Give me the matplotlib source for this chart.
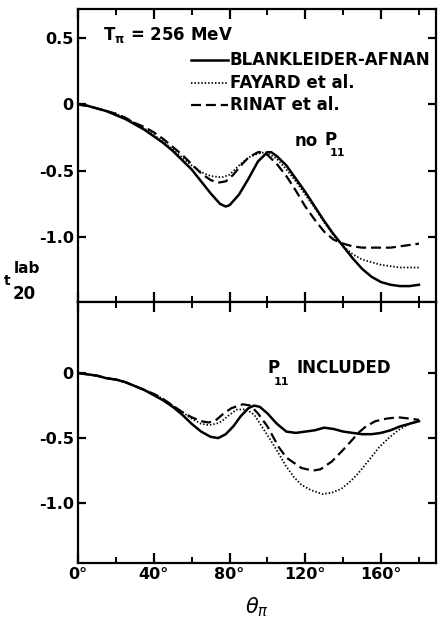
import matplotlib
matplotlib.use("Agg")
import matplotlib.pyplot as plt
from matplotlib.ticker import MultipleLocator

plt.rcParams['font.family'] = ['DejaVu Sans']
plt.rcParams['mathtext.fontset'] = 'dejavusans'

# ---------------- data ----------------
# Top panel: no P11
ba_top_x = [0, 5, 10, 15, 20, 25, 30, 35, 40, 45, 50, 55, 60, 65, 70, 75, 78, 80, 85, 90, 95,
            100, 102, 105, 110, 115, 120, 125, 130, 135, 140, 145, 150, 155, 160, 165, 170, 175, 180]
ba_top_y = [0, -0.01, -0.03, -0.05, -0.08, -0.11, -0.15, -0.19, -0.24, -0.29, -0.35, -0.42, -0.49,
            -0.58, -0.67, -0.75, -0.77, -0.76, -0.68, -0.56, -0.43, -0.36, -0.36, -0.39, -0.46,
            -0.56, -0.66, -0.77, -0.88, -0.98, -1.07, -1.16, -1.24, -1.30, -1.34, -1.36, -1.37,
            -1.37, -1.36]

fa_top_x = [0, 5, 10, 15, 20, 25, 30, 35, 40, 45, 50, 55, 60, 65, 70, 76, 80, 85, 90, 95, 99,
            105, 110, 115, 120, 125, 130, 135, 140, 145, 150, 155, 160, 165, 170, 175, 180]
fa_top_y = [0, -0.01, -0.03, -0.05, -0.07, -0.10, -0.14, -0.18, -0.23, -0.28, -0.34, -0.40, -0.46,
            -0.51, -0.54, -0.55, -0.53, -0.46, -0.40, -0.37, -0.36, -0.41, -0.49, -0.58, -0.68,
            -0.78, -0.89, -0.99, -1.07, -1.13, -1.17, -1.19, -1.21, -1.22, -1.23, -1.23, -1.23]

ri_top_x = [0, 5, 10, 15, 20, 25, 30, 35, 40, 45, 50, 55, 60, 65, 70, 74, 78, 82, 86, 90, 95, 97,
            100, 105, 110, 115, 120, 125, 130, 135, 140, 145, 150, 155, 160, 165, 170, 175, 180]
ri_top_y = [0, -0.01, -0.03, -0.05, -0.07, -0.10, -0.14, -0.17, -0.21, -0.26, -0.32, -0.38, -0.45,
            -0.52, -0.57, -0.59, -0.58, -0.53, -0.46, -0.40, -0.36, -0.36, -0.38, -0.45, -0.54,
            -0.65, -0.77, -0.87, -0.96, -1.02, -1.05, -1.07, -1.08, -1.08, -1.08, -1.08, -1.07,
            -1.06, -1.05]

# Bottom panel: P11 included
ba_bot_x = [0, 5, 10, 15, 20, 25, 30, 35, 40, 45, 50, 55, 60, 65, 70, 74, 78, 82, 86, 90, 93, 96,
            100, 105, 110, 115, 120, 125, 130, 135, 140, 145, 150, 155, 160, 165, 170, 175, 180]
ba_bot_y = [0, -0.01, -0.02, -0.04, -0.05, -0.07, -0.10, -0.13, -0.17, -0.21, -0.26, -0.32, -0.39,
            -0.45, -0.49, -0.50, -0.47, -0.41, -0.33, -0.27, -0.25, -0.26, -0.31, -0.39, -0.45,
            -0.46, -0.45, -0.44, -0.42, -0.43, -0.45, -0.46, -0.47, -0.47, -0.46, -0.44, -0.41,
            -0.39, -0.37]

fa_bot_x = [0, 5, 10, 15, 20, 25, 30, 35, 40, 45, 50, 55, 60, 65, 69, 73, 76, 80, 84, 89, 93, 97,
            101, 106, 110, 114, 118, 123, 129, 134, 139, 144, 148, 153, 159, 164, 169, 175, 180]
fa_bot_y = [0, -0.01, -0.02, -0.04, -0.05, -0.07, -0.10, -0.13, -0.16, -0.20, -0.25, -0.30, -0.35,
            -0.39, -0.40, -0.39, -0.37, -0.32, -0.28, -0.28, -0.32, -0.41, -0.50, -0.62, -0.72,
            -0.80, -0.86, -0.90, -0.93, -0.92, -0.89, -0.83, -0.77, -0.68, -0.57, -0.50, -0.44,
            -0.39, -0.36]

ri_bot_x = [0, 5, 10, 15, 20, 25, 30, 35, 40, 45, 50, 55, 60, 65, 69, 73, 77, 81, 87, 91, 95, 100,
            106, 110, 114, 118, 124, 128, 134, 140, 145, 148, 152, 157, 163, 169, 175, 180]
ri_bot_y = [0, -0.01, -0.02, -0.04, -0.05, -0.07, -0.10, -0.13, -0.16, -0.20, -0.25, -0.30, -0.34,
            -0.37, -0.38, -0.36, -0.31, -0.27, -0.24, -0.25, -0.31, -0.41, -0.57, -0.65, -0.69,
            -0.73, -0.75, -0.74, -0.68, -0.59, -0.51, -0.46, -0.41, -0.37, -0.35, -0.34, -0.35,
            -0.36]

series_names = ["BLANKLEIDER-AFNAN", "FAYARD et al.", "RINAT et al."]
x_tick_values = [0, 40, 80, 120, 160]
x_tick_labels = ["0°", "40°", "80°", "120°", "160°"]
top_y_ticks = [0.5, 0, -0.5, -1.0]
top_y_labels = ["0.5", "0", "-0.5", "-1.0"]
bot_y_ticks = [0, -0.5, -1.0]
bot_y_labels = ["0", "-0.5", "-1.0"]

# ---------------- figure ----------------
W, H = 439, 621
fig = plt.figure(figsize=(W / 100, H / 100), dpi=100)

def px_axes(l, t, r, b):
    return fig.add_axes([l / W, 1 - b / H, (r - l) / W, (b - t) / H])

ax1 = px_axes(78, 9, 436, 302)
ax2 = px_axes(78, 302, 436, 563)

tick_font = dict(fontsize=11.5, fontweight='bold')
styles = [dict(color='black', lw=1.8, ls='-'),
          dict(color='black', lw=1.3, ls=(0, (0.8, 1.1))),
          dict(color='black', lw=1.6, ls=(0, (4.5, 2.2)))]

for ax, data in ((ax1, [(ba_top_x, ba_top_y), (fa_top_x, fa_top_y), (ri_top_x, ri_top_y)]),
                 (ax2, [(ba_bot_x, ba_bot_y), (fa_bot_x, fa_bot_y), (ri_bot_x, ri_bot_y)])):
    for (xs, ys), st, name in zip(data, styles, series_names):
        ax.plot(xs, ys, label=name, **st)
    ax.set_xlim(0, 189)
    ax.xaxis.set_major_locator(MultipleLocator(40))
    ax.xaxis.set_minor_locator(MultipleLocator(20))
    for sp in ax.spines.values():
        sp.set_linewidth(1.6)
    ax.tick_params(axis='both', which='major', direction='in', length=7, width=1.6,
                   top=True, right=True, pad=3)
    ax.tick_params(axis='both', which='minor', direction='in', length=4, width=1.4,
                   top=True, right=True)
    ax.tick_params(axis='y', which='major', right=True, length=6)

ax1.set_ylim(-1.49, 0.72)
ax1.set_yticks(top_y_ticks)
ax1.set_yticklabels(top_y_labels, **tick_font)
ax1.tick_params(axis='x', labelbottom=False)

ax2.set_ylim(-1.46, 0.546)
ax2.set_yticks(bot_y_ticks)
ax2.set_yticklabels(bot_y_labels, **tick_font)
ax2.set_xticks(x_tick_values)
ax2.set_xticklabels(x_tick_labels, **tick_font)

# legend (manual, as drawn in the figure)
leg_rows_y = [60, 83, 105]
for (st, name, ly) in zip(styles, series_names, leg_rows_y):
    yy = 1 - ly / H
    fig.add_artist(plt.Line2D([191 / W, 228 / W], [yy, yy], transform=fig.transFigure, **st))
    fig.text(230 / W, yy, name, ha='left', va='center', fontsize=12, fontweight='bold')

fig.text(103 / W, 1 - 35 / H, r"T$_{\mathbf{\pi}}$ = 256 MeV", ha='left', va='center',
         fontsize=12, fontweight='bold')
fig.text(295 / W, 1 - 141 / H, "no", ha='left', va='center', fontsize=12, fontweight='bold')
fig.text(324 / W, 1 - 140 / H, "P", ha='left', va='center', fontsize=12, fontweight='bold')
fig.text(330 / W, 1 - 153 / H, "11", ha='left', va='center', fontsize=8, fontweight='bold')

fig.text(268 / W, 1 - 368 / H, "P", ha='left', va='center', fontsize=12, fontweight='bold')
fig.text(274 / W, 1 - 382 / H, "11", ha='left', va='center', fontsize=8, fontweight='bold')
fig.text(297 / W, 1 - 368 / H, "INCLUDED", ha='left', va='center', fontsize=12, fontweight='bold')

# y label t_20^lab
fig.text(4 / W, 1 - 281 / H, "t", ha='left', va='center', fontsize=10, fontweight='bold')
fig.text(14 / W, 1 - 269 / H, "lab", ha='left', va='center', fontsize=11, fontweight='bold')
fig.text(13 / W, 1 - 294 / H, "20", ha='left', va='center', fontsize=12, fontweight='bold')

# x label theta_pi
fig.text(257 / W, 1 - 607 / H, r"$\boldsymbol{\theta_{\pi}}$", ha='center', va='center',
         fontsize=15)

fig.savefig("out.png", dpi=100)
